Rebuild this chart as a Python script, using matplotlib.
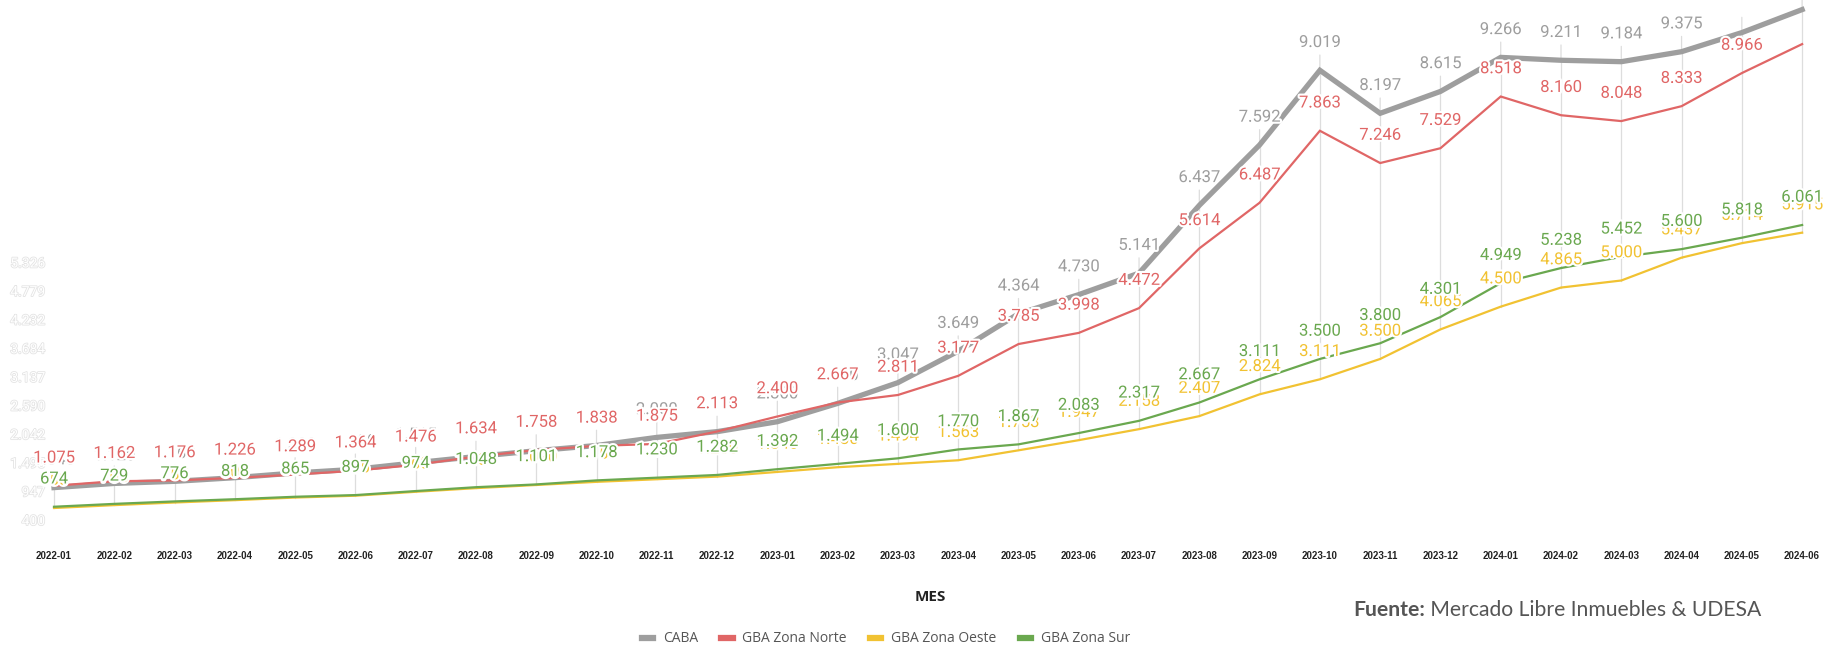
import matplotlib.pyplot as plt
import matplotlib.patheffects as pe
from matplotlib.lines import Line2D
from matplotlib.transforms import blended_transform_factory

# Figure size in pixels
W, H, DPI = 1829, 645, 100

MONTHS = [
    "2022-01", "2022-02", "2022-03", "2022-04", "2022-05", "2022-06",
    "2022-07", "2022-08", "2022-09", "2022-10", "2022-11", "2022-12",
    "2023-01", "2023-02", "2023-03", "2023-04", "2023-05", "2023-06",
    "2023-07", "2023-08", "2023-09", "2023-10", "2023-11", "2023-12",
    "2024-01", "2024-02", "2024-03", "2024-04", "2024-05", "2024-06",
]

CABA = [1040, 1120, 1160, 1230, 1320, 1390, 1515, 1634, 1745, 1845,
        2000, 2110, 2300, 2650, 3047, 3649, 4364, 4730, 5141, 6437,
        7592, 9019, 8197, 8615, 9266, 9211, 9184, 9375, 9740, 10180]
ZONA_NORTE = [1075, 1162, 1176, 1226, 1289, 1364, 1476, 1634, 1758, 1838,
              1875, 2113, 2400, 2667, 2811, 3177, 3785, 3998, 4472, 5614,
              6487, 7863, 7246, 7529, 8518, 8160, 8048, 8333, 8966, 9520]
ZONA_OESTE = [650, 705, 755, 800, 850, 885, 960, 1030, 1090, 1150,
              1200, 1250, 1340, 1430, 1494, 1563, 1753, 1947, 2158, 2407,
              2824, 3111, 3500, 4065, 4500, 4865, 5000, 5437, 5714, 5915]
ZONA_SUR = [674, 729, 776, 818, 865, 897, 974, 1048, 1101, 1178,
            1230, 1282, 1392, 1494, 1600, 1770, 1867, 2083, 2317, 2667,
            3111, 3500, 3800, 4301, 4949, 5238, 5452, 5600, 5818, 6061]

SERIES_NAMES = ["CABA", "GBA Zona Norte", "GBA Zona Oeste", "GBA Zona Sur"]
SERIES_VALUES = [CABA, ZONA_NORTE, ZONA_OESTE, ZONA_SUR]

# labels that the original chart does not show
HIDDEN_LABELS = {"CABA": [28, 29], "GBA Zona Norte": [29]}

# faint y axis labels
Y_TICKS = [400, 947, 1495, 2042, 2590, 3137, 3684, 4232, 4779, 5326]

COLORS = {
    "CABA": "#9e9e9e",
    "GBA Zona Norte": "#e06666",
    "GBA Zona Oeste": "#f1c232",
    "GBA Zona Sur": "#6aa84f",
}
LINE_WIDTHS = {"CABA": 3.8, "GBA Zona Norte": 1.6,
               "GBA Zona Oeste": 1.6, "GBA Zona Sur": 1.6}


def fmt(v):
    return f"{v:,}".replace(",", ".")


fig = plt.figure(figsize=(W / DPI, H / DPI), dpi=DPI)
ax = fig.add_axes([0, (H - 530) / H, 1, 530 / H])
ax.set_xlim(-54 / 60.28, (W - 54) / 60.28)
ax.set_ylim(12 / 0.0523, 542 / 0.0523)

x = list(range(len(MONTHS)))

# leader lines from the top label down to the lowest point
for i in x:
    vals = [s[i] for s in SERIES_VALUES]
    ax.plot([i, i], [min(vals), max(vals)], color="#dddddd", lw=0.9, zorder=1)
    ax.annotate("", xy=(i, max(vals)), xytext=(0, 11),
                textcoords="offset points",
                arrowprops=dict(arrowstyle="-", color="#dddddd", lw=0.9,
                                shrinkA=0, shrinkB=0),
                zorder=1)

for name, vals in zip(SERIES_NAMES, SERIES_VALUES):
    ax.plot(x, vals, color=COLORS[name], lw=LINE_WIDTHS[name],
            solid_joinstyle="miter", zorder=2)

for name, vals in zip(SERIES_NAMES, SERIES_VALUES):
    for i, v in enumerate(vals):
        if i in HIDDEN_LABELS.get(name, []):
            continue
        ax.annotate(fmt(v), xy=(i, v), xytext=(0, 20),
                    textcoords="offset points", ha="center", va="center",
                    fontsize=12, family="Roboto", color=COLORS[name],
                    path_effects=[pe.withStroke(linewidth=3, foreground="white")],
                    zorder=3, annotation_clip=False)

# ghost y labels (white text, very light outline)
trans = blended_transform_factory(fig.transFigure, ax.transData)
for t in Y_TICKS:
    ax.text(45 / W, t, fmt(t), transform=trans, ha="right", va="center",
            fontsize=10, family="Roboto", color="white",
            path_effects=[pe.withStroke(linewidth=1.2, foreground="#e4e4e4")],
            zorder=0)

ax.set_xticks(x)
ax.set_xticklabels(MONTHS, fontsize=7, fontweight="bold",
                   family="Liberation Sans", color="#222222")
ax.tick_params(axis="x", length=0, pad=15)
ax.set_yticks([])
for s in ax.spines.values():
    s.set_visible(False)

fig.text(930 / W, 1 - 597 / H, "MES", ha="center", va="center",
         fontsize=11, fontweight="bold", family="Open Sans", color="#222222")

handles = [Line2D([0], [0], color=COLORS[n], lw=4.5) for n in SERIES_NAMES]
fig.legend(handles, SERIES_NAMES, loc="center",
           bbox_to_anchor=(886 / W, 1 - 639 / H), ncol=4, frameon=False,
           prop={"family": "Open Sans", "size": 10}, labelcolor="#555555",
           handlelength=0.8, handletextpad=0.7, columnspacing=1.7)

src = fig.text(1353 / W, 1 - 610 / H, "Fuente:", ha="left", va="center",
               fontsize=15.2, fontweight="bold", family="Lato", color="#555555")
plt.annotate(" Mercado Libre Inmuebles & UDESA", xy=(1, 0),
             xycoords=src, xytext=(0, 0), textcoords="offset points",
             ha="left", va="bottom", fontsize=15.2, family="Lato",
             color="#555555", annotation_clip=False)

fig.savefig("out.png", dpi=DPI, facecolor="white")
